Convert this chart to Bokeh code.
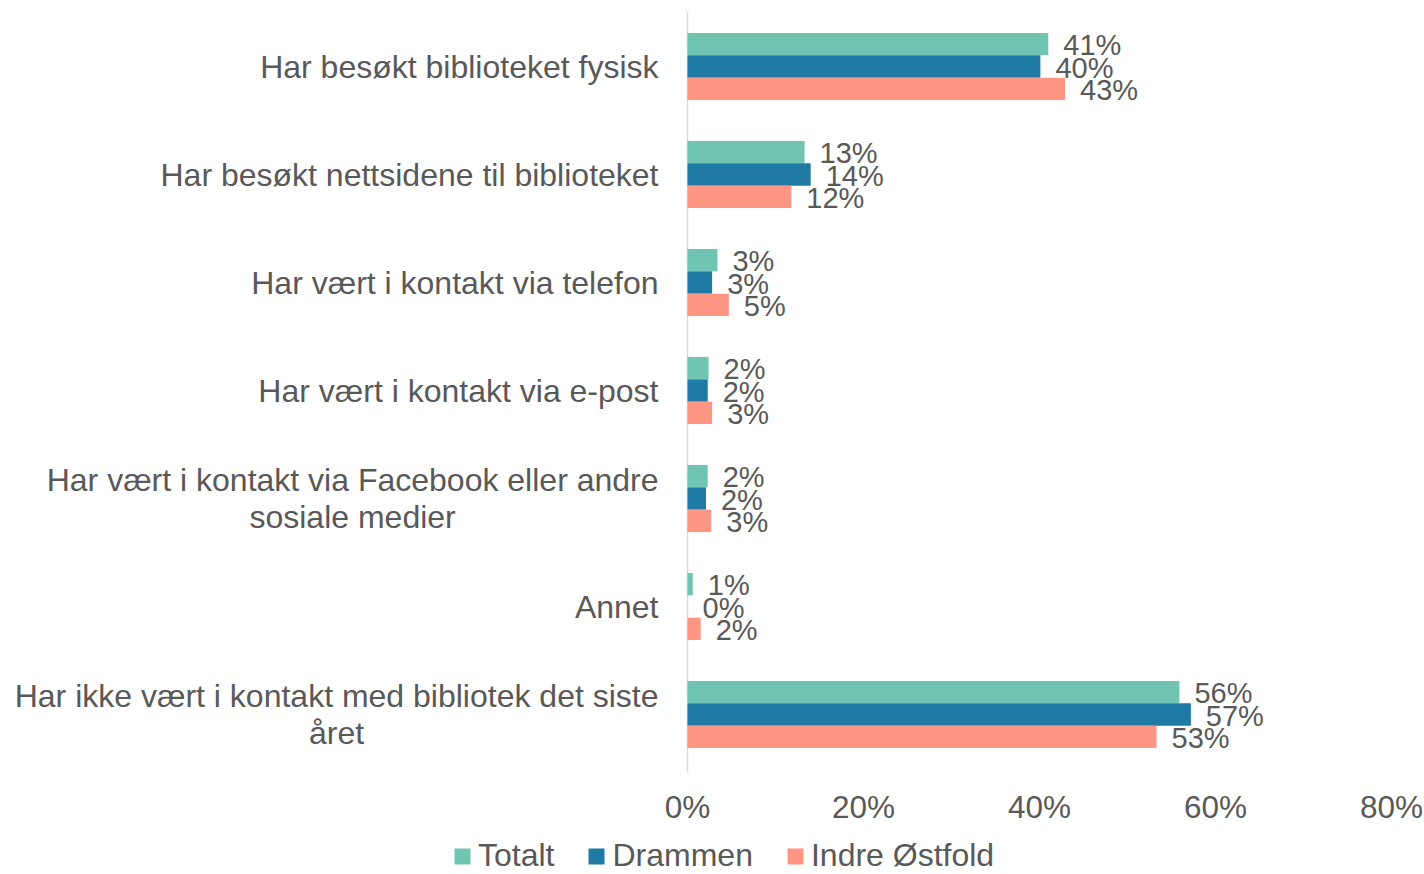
from bokeh.plotting import figure
from bokeh.models import ColumnDataSource, Range1d, Legend, LegendItem
from bokeh.transform import dodge
from bokeh.core.properties import value
from bokeh.embed import file_html
from bokeh.resources import INLINE

categories = [
    "Har besøkt biblioteket fysisk",
    "Har besøkt nettsidene til biblioteket",
    "Har vært i kontakt via telefon",
    "Har vært i kontakt via e-post",
    "Har vært i kontakt via Facebook eller andre\nsosiale medier",
    "Annet",
    "Har ikke vært i kontakt med bibliotek det siste\nåret",
]
totalt = [41.0, 13.3, 3.4, 2.4, 2.3, 0.6, 55.9]
drammen = [40.1, 14.0, 2.8, 2.3, 2.1, 0.0, 57.2]
indre_ostfold = [42.9, 11.8, 4.7, 2.8, 2.7, 1.5, 53.3]
series_names = ["Totalt", "Drammen", "Indre Østfold"]
x_ticks = [0, 20, 40, 60, 80]

# ---- styling / layout -------------------------------------------------------
W, H = 1424, 874
X0_PX = 687          # pixel position of 0 %
PX_PER_PCT = 8.8     # pixels per percentage point
TOP_PX, ROW_PX = 12, 108
colors = ["#70C4B2", "#1F7BA3", "#FF9683"]
BAR_H = 0.207
offsets = [-BAR_H, 0.0, BAR_H]
FONT = "Liberation Sans"
TXT = "#595959"
CAT_SIZE, TICK_SIZE, LBL_SIZE, LEG_SIZE = 32, 31.5, 29, 32

# Liberation Sans advance widths (1/1000 em), used to centre wrapped labels
CHAR_W = {" ": 278, "-": 333, "A": 667, "F": 611, "H": 722, "a": 556, "b": 556,
          "c": 500, "d": 556, "e": 556, "f": 278, "i": 222, "k": 500, "l": 222,
          "m": 833, "n": 556, "o": 556, "p": 556, "r": 333, "s": 500, "t": 278,
          "v": 500, "y": 500, "å": 556, "æ": 889, "ø": 611}

def text_px(s, size):
    return sum(CHAR_W.get(c, 556) for c in s) * size / 1000.0

x_range = Range1d(-X0_PX / PX_PER_PCT, (W - X0_PX) / PX_PER_PCT)
y_range = Range1d((H - TOP_PX) / ROW_PX - 0.5, -TOP_PX / ROW_PX - 0.5)

p = figure(width=W, height=H, x_range=x_range, y_range=y_range,
           x_axis_type=None, y_axis_type=None,
           output_backend="svg", toolbar_location=None,
           min_border=0, min_border_left=0, min_border_right=0,
           min_border_top=0, min_border_bottom=0)
p.outline_line_color = None
p.grid.visible = False
p.background_fill_color = "white"
p.border_fill_color = "white"

idx = list(range(len(categories)))

# vertical axis line
p.segment(x0=[0], y0=[-0.5], x1=[0], y1=[len(categories) - 0.5 + 4 / ROW_PX],
          line_color="#D9D9D9", line_width=1.5)

renderers = []
for name, vals, color, off in zip(series_names, [totalt, drammen, indre_ostfold], colors, offsets):
    src = ColumnDataSource(dict(idx=idx, val=vals, lbl=[f"{v:.0f}%" for v in vals]))
    r = p.hbar(y=dodge("idx", off), left=0, right="val", height=BAR_H,
               fill_color=color, line_color=None, source=src)
    renderers.append(r)
    p.text(x="val", y=dodge("idx", off), text="lbl", source=src,
           x_offset=15, y_offset=1, text_align="left", text_baseline="middle",
           text_font=value(FONT), text_font_size=f"{LBL_SIZE}px", text_color=TXT)

# category labels (right edge 29 px left of the axis; wrapped lines centred)
right_edge = -29 / PX_PER_PCT
cat_x, cat_align = [], []
for c in categories:
    lines = c.split("\n")
    if len(lines) == 1:
        cat_x.append(right_edge)
        cat_align.append("right")
    else:
        wmax = max(text_px(l, CAT_SIZE) for l in lines)
        cat_x.append(right_edge - wmax / 2 / PX_PER_PCT)
        cat_align.append("center")
cat_src = ColumnDataSource(dict(x=cat_x, y=idx, text=categories, align=cat_align))
p.text(x="x", y="y", text="text", text_align="align", source=cat_src,
       text_baseline="middle", text_line_height=1.03,
       text_font=value(FONT), text_font_size=f"{CAT_SIZE}px", text_color=TXT)

# x tick labels
tick_y = y_range.end + 806 / ROW_PX
tick_src = ColumnDataSource(dict(x=x_ticks, y=[tick_y] * len(x_ticks),
                                 text=[f"{t}%" for t in x_ticks]))
p.text(x="x", y="y", text="text", source=tick_src, text_align="center",
       text_baseline="middle", text_font=value(FONT),
       text_font_size=f"{TICK_SIZE}px", text_color=TXT)

legend = Legend(items=[LegendItem(label=n, renderers=[r]) for n, r in zip(series_names, renderers)],
                orientation="horizontal", location=(452, 0),
                glyph_width=20, glyph_height=20, label_standoff=6, spacing=32,
                padding=0, margin=0, border_line_color=None, background_fill_alpha=0,
                label_text_font=FONT, label_text_font_size=f"{LEG_SIZE}px",
                label_text_color=TXT)
p.add_layout(legend)

open("out.html", "w").write(file_html(p, INLINE))
